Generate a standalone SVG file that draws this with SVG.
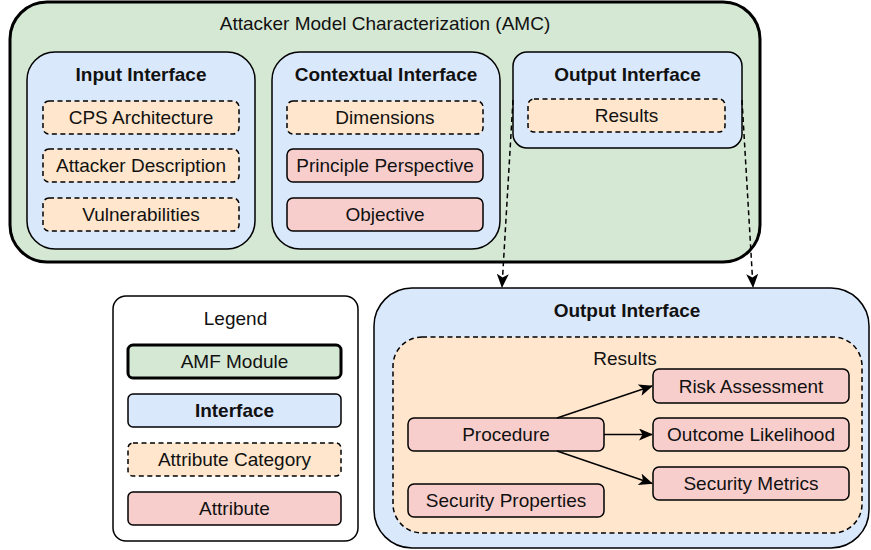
<svg xmlns="http://www.w3.org/2000/svg" width="871" height="550" viewBox="0 0 871 550">
<defs>
<style>
text{font-family:"Liberation Sans",Arial,sans-serif;font-size:19px;fill:#111;text-anchor:middle}
.b{font-weight:bold}
.mod{fill:#d5e8d4;stroke:#000;stroke-width:3}
.itf{fill:#dae8fc;stroke:#000;stroke-width:1.5}
.cat{fill:#ffe6cc;stroke:#000;stroke-width:1.5;stroke-dasharray:5 3.5}
.att{fill:#f8cecc;stroke:#000;stroke-width:1.5}
.leg{fill:#fff;stroke:#000;stroke-width:1.5}
.edge{fill:none;stroke:#000;stroke-width:1.5}
.dash{stroke-dasharray:5 3.5}
</style>
<marker id="arr" markerUnits="userSpaceOnUse" markerWidth="14" markerHeight="12" refX="13" refY="6" orient="auto" viewBox="0 0 14 12">
<path d="M0,0 L14,6 L0,12 L3.5,6 Z" fill="#000" stroke="none"/>
</marker>
</defs>

<g id="amc">
<rect class="mod" x="10" y="2" width="750" height="260" rx="37"/>
<text x="385" y="30">Attacker Model Characterization (AMC)</text>
</g>

<g id="input-interface">
<rect class="itf" x="27" y="52" width="228" height="197" rx="28"/>
<text class="b" x="141" y="81">Input Interface</text>
</g>
<g id="cps-architecture"><rect class="cat" x="43" y="101" width="196" height="33" rx="6"/><text x="141" y="124">CPS Architecture</text></g>
<g id="attacker-description"><rect class="cat" x="43" y="149" width="196" height="33" rx="6"/><text x="141" y="172">Attacker Description</text></g>
<g id="vulnerabilities"><rect class="cat" x="43" y="198" width="196" height="33" rx="6"/><text x="141" y="221">Vulnerabilities</text></g>

<g id="contextual-interface">
<rect class="itf" x="272" y="52" width="228" height="197" rx="28"/>
<text class="b" x="386" y="81">Contextual Interface</text>
</g>
<g id="dimensions"><rect class="cat" x="287" y="101" width="196" height="33" rx="6"/><text x="385" y="124">Dimensions</text></g>
<g id="principle-perspective"><rect class="att" x="287" y="149" width="196" height="33" rx="6"/><text x="385" y="172">Principle Perspective</text></g>
<g id="objective"><rect class="att" x="287" y="198" width="196" height="33" rx="6"/><text x="385" y="221">Objective</text></g>

<g id="output-interface-small">
<rect class="itf" x="513" y="52" width="229" height="96" rx="14"/>
<text class="b" x="627.5" y="81">Output Interface</text>
</g>
<g id="results-small"><rect class="cat" x="528" y="99" width="197" height="33" rx="6"/><text x="626.5" y="122">Results</text></g>

<g id="legend">
<rect class="leg" x="113" y="296" width="245" height="245" rx="13"/>
<text x="235.5" y="325">Legend</text>
</g>
<g id="legend-amf"><rect class="mod" x="128" y="345" width="213" height="33" rx="5"/><text x="234.5" y="368">AMF Module</text></g>
<g id="legend-interface"><rect class="itf" x="128" y="394" width="213" height="33" rx="5"/><text class="b" x="234.5" y="417">Interface</text></g>
<g id="legend-category"><rect class="cat" x="128" y="443" width="213" height="33" rx="5"/><text x="234.5" y="466">Attribute Category</text></g>
<g id="legend-attribute"><rect class="att" x="128" y="492" width="213" height="33" rx="5"/><text x="234.5" y="515">Attribute</text></g>

<g id="output-interface-big">
<rect class="itf" x="374" y="288" width="495" height="260" rx="38"/>
<text class="b" x="627" y="317">Output Interface</text>
</g>
<g id="results-big">
<rect class="cat" x="393" y="337" width="469" height="196" rx="29"/>
<text x="625" y="365">Results</text>
</g>
<g id="risk-assessment"><rect class="att" x="653" y="369" width="196" height="34" rx="6"/><text x="751" y="392.5">Risk Assessment</text></g>
<g id="outcome-likelihood"><rect class="att" x="653" y="418" width="196" height="33" rx="6"/><text x="751" y="441">Outcome Likelihood</text></g>
<g id="security-metrics"><rect class="att" x="653" y="467" width="196" height="33" rx="6"/><text x="751" y="490">Security Metrics</text></g>
<g id="procedure"><rect class="att" x="408" y="418" width="196" height="33" rx="6"/><text x="506" y="441">Procedure</text></g>
<g id="security-properties"><rect class="att" x="408" y="484" width="196" height="33" rx="6"/><text x="506" y="507">Security Properties</text></g>

<g id="connectors">
<path class="edge dash" d="M513,100 L502,287" marker-end="url(#arr)"/>
<path class="edge dash" d="M742,100 L753,287" marker-end="url(#arr)"/>
<path class="edge" d="M557,418 L652,386" marker-end="url(#arr)"/>
<path class="edge" d="M604,434.5 L652,434.5" marker-end="url(#arr)"/>
<path class="edge" d="M557,451 L652,483.5" marker-end="url(#arr)"/>
</g>
</svg>
